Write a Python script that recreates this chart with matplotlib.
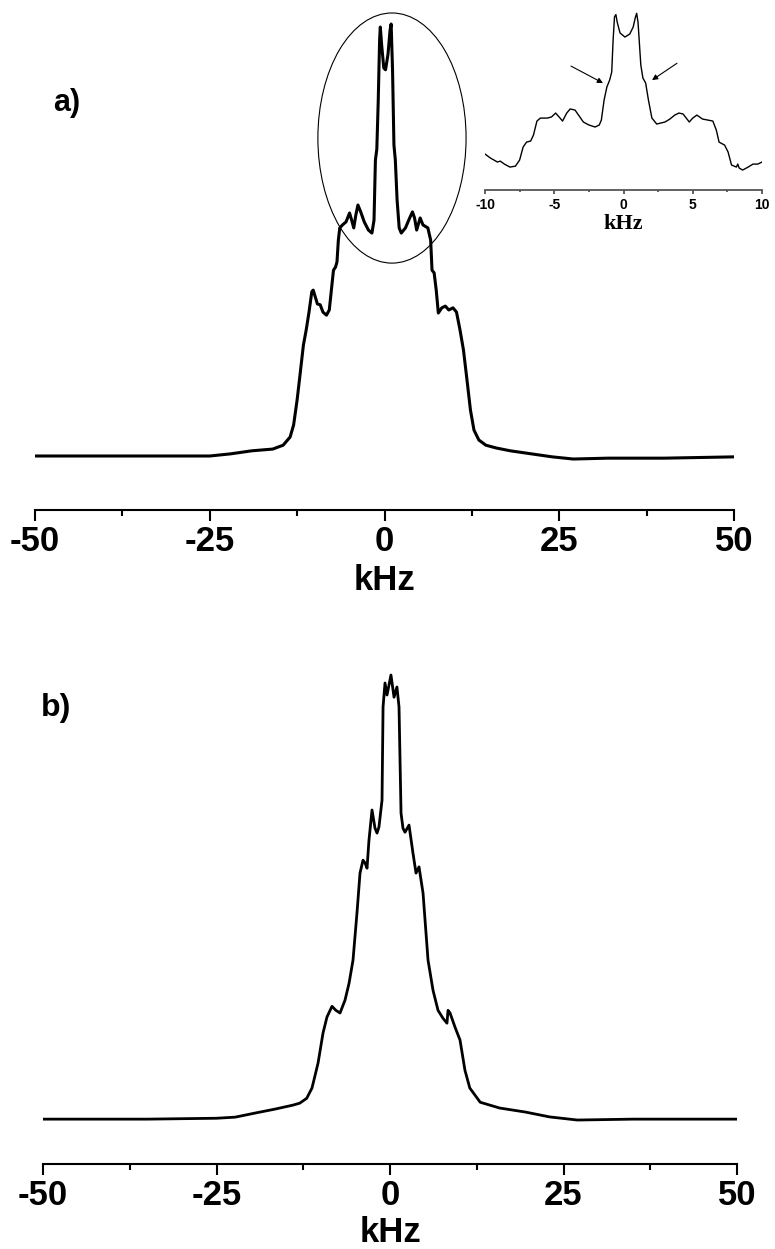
import matplotlib.pyplot as plt
from matplotlib.patches import Ellipse

plt.rcParams['font.family'] = ['Liberation Sans', 'DejaVu Sans']
plt.rcParams['font.weight'] = 'bold'

# Spectre a) (kHz, intensite normalisee)
freq_a = [-50, -40, -30, -25, -22, -19, -16, -14.5, -13.5, -13, -12.5, -12, -11.6, -11.2,
          -10.8, -10.4, -10.2, -9.9, -9.6, -9.2, -8.8, -8.3, -7.9, -7.6, -7.3, -7.0, -6.8,
          -6.6, -6.4, -6.0, -5.5, -5.0, -4.7, -4.4, -4.1, -3.8, -3.4, -2.9, -2.3, -1.8,
          -1.5, -1.3, -1.1, -0.9, -0.7, -0.6, -0.4, -0.1, 0.15, 0.5, 0.8, 0.95, 1.15,
          1.35, 1.55, 1.8, 2.1, 2.4, 3.0, 3.6, 4.0, 4.3, 4.6, 5.1, 5.5, 6.2, 6.6, 6.8,
          7.1, 7.4, 7.7, 8.2, 8.7, 9.2, 9.8, 10.3, 10.8, 11.3, 11.8, 12.3, 12.8, 13.5,
          14.5, 16, 18, 21, 24, 27, 32, 40, 50]
int_a = [0.0, 0.0, 0.0, 0.0, 0.005, 0.012, 0.016, 0.025, 0.044, 0.072, 0.13, 0.2, 0.257, 0.292,
         0.333, 0.38, 0.384, 0.368, 0.352, 0.35, 0.333, 0.326, 0.338, 0.384, 0.43, 0.4375, 0.449,
         0.5, 0.528, 0.535, 0.542, 0.5625, 0.546, 0.528, 0.558, 0.581, 0.565, 0.542, 0.523, 0.516,
         0.546, 0.685, 0.71, 0.82, 0.963, 0.993, 0.95, 0.898, 0.894, 0.93, 0.986, 1.0, 0.894,
         0.72, 0.685, 0.593, 0.528, 0.516, 0.528, 0.551, 0.565, 0.551, 0.523, 0.551, 0.535, 0.528, 0.5, 0.43,
         0.424, 0.384, 0.331, 0.343, 0.347, 0.338, 0.343, 0.333, 0.292, 0.245, 0.176, 0.106, 0.06, 0.037,
         0.025, 0.0185, 0.012, 0.005, -0.002, -0.007, -0.005, -0.005, -0.002]

# Encart : zoom -10..10 kHz
freq_in = [-10, -9.6, -9.1, -8.9, -8.6, -8.2, -7.8, -7.5, -7.25, -7.0, -6.7, -6.5, -6.25, -6.0,
           -5.5, -5.2, -4.9, -4.65, -4.4, -4.1, -3.85, -3.5, -3.2, -2.9, -2.5, -2.05, -1.75,
           -1.6, -1.4, -1.2, -1.0, -0.85, -0.75, -0.65, -0.55, -0.45, -0.25, 0.1, 0.45, 0.7, 0.85,
           0.95, 1.05, 1.25, 1.4, 1.6, 1.8, 2.05, 2.4, 3.0, 3.35, 3.7, 4.0, 4.3, 4.75, 5.0, 5.3,
           5.7, 6.45, 6.7, 6.9, 7.3, 7.55, 7.8, 8.15, 8.25, 8.35, 8.6, 9.0, 9.35, 9.7, 10]
int_in = [0.102, 0.076, 0.051, 0.057, 0.038, 0.019, 0.025, 0.064, 0.146, 0.178, 0.185, 0.223, 0.312, 0.331,
          0.331, 0.338, 0.363, 0.338, 0.312, 0.363, 0.389, 0.382, 0.344, 0.306, 0.287, 0.274, 0.287,
          0.318, 0.446, 0.529, 0.573, 0.624, 0.828, 0.975, 0.99, 0.94, 0.873, 0.847, 0.866, 0.911, 0.97,
          0.998, 0.94, 0.669, 0.586, 0.554, 0.446, 0.331, 0.293, 0.306, 0.325, 0.35, 0.363, 0.357, 0.306, 0.331, 0.35,
          0.325, 0.312, 0.255, 0.178, 0.159, 0.115, 0.032, 0.019, 0.038, 0.013, 0.0, 0.019, 0.038, 0.038, 0.051]

# Spectre b)
freq_b = [-50, -35, -25, -22.3, -19.5, -16.6, -14, -13, -12, -11.24, -10.37, -9.65, -9.08, -8.36,
          -7.8, -7.2, -6.48, -5.9, -5.33, -4.76, -4.32, -3.89, -3.6, -3.31, -3.03, -2.59, -2.16,
          -1.87, -1.59, -1.15, -1.0, -0.72, -0.43, 0.14, 0.58, 1.0, 1.3, 1.59, 1.87, 2.16,
          2.74, 3.31, 3.75, 4.18, 4.76, 5.48, 6.2, 6.92, 7.64, 8.21, 8.36, 8.65, 9.37, 10.09,
          10.8, 11.5, 13, 15.8, 19.5, 23, 27, 35, 50]
int_b = [0.0, 0.0, 0.002, 0.0045, 0.0135, 0.0225, 0.0315, 0.036, 0.047, 0.07, 0.126, 0.194, 0.23, 0.254,
         0.245, 0.239, 0.268, 0.306, 0.358, 0.464, 0.554, 0.583, 0.577, 0.565, 0.628, 0.696, 0.655,
         0.644, 0.658, 0.718, 0.928, 0.982, 0.955, 1.0, 0.95, 0.973, 0.928, 0.689, 0.655, 0.646,
         0.662, 0.599, 0.554, 0.568, 0.509, 0.358, 0.29, 0.245, 0.227, 0.216, 0.245, 0.239, 0.207, 0.178,
         0.11, 0.07, 0.038, 0.025, 0.016, 0.005, -0.002, 0.0, 0.0]

W, H = 775, 1249
fig = plt.figure(figsize=(W / 100, H / 100), dpi=100)


def axes_px(left, top, right, bottom):
    # position des axes en pixels (origine en haut a gauche)
    return fig.add_axes([left / W, 1 - bottom / H, (right - left) / W, (bottom - top) / H])


def style_axis(ax, major, minor, lw, size, length, color='black'):
    for s in ['left', 'right', 'top']:
        ax.spines[s].set_visible(False)
    ax.spines['bottom'].set_linewidth(lw)
    ax.spines['bottom'].set_color(color)
    ax.set_yticks([])
    ax.set_xticks(major)
    ax.set_xticks(minor, minor=True)
    ax.set_xticklabels([str(v) for v in major])
    ax.tick_params(axis='x', which='major', direction='out', length=length, width=lw,
                   color=color, labelsize=size, pad=3)
    ax.tick_params(axis='x', which='minor', direction='out', length=length * 0.55, width=lw,
                   color=color)
    ax.patch.set_alpha(0)


# a)
ax_a = axes_px(35, 10, 734, 510)
ax_a.plot(freq_a, int_a, color='black', lw=2.2)
ax_a.set_xlim(-50, 50)
ax_a.set_ylim(-0.125, 1.0324)
style_axis(ax_a, [-50, -25, 0, 25, 50], [-37.5, -12.5, 12.5, 37.5], 1.5, 25, 8)
ax_a.set_xlabel('kHz', fontsize=25, fontweight='bold', va='center')
ax_a.xaxis.set_label_coords(0.5, -0.14)
ax_a.add_patch(Ellipse((1.07, 0.736), 21.2, 0.579, fill=False, lw=0.8, ec='black', clip_on=False))
fig.text(67 / W, 1 - 103 / H, 'a)', fontsize=22, fontweight='bold', ha='center', va='center')

# encart
ax_in = axes_px(485, 5, 762, 190)
ax_in.plot(freq_in, int_in, color='black', lw=1.0)
ax_in.set_xlim(-10, 10)
ax_in.set_ylim(-0.127, 1.051)
style_axis(ax_in, [-10, -5, 0, 5, 10], [-7.5, -2.5, 2.5, 7.5], 1.3, 10, 3, color='#555555')
ax_in.set_xlabel('kHz', fontsize=16, fontweight='bold', family='Liberation Serif', va='center')
ax_in.xaxis.set_label_coords(0.5, -0.185)
arrow = dict(arrowstyle='-|>', lw=0.8, color='black', mutation_scale=8, shrinkA=0, shrinkB=0)
ax_in.annotate('', xy=(-1.48, 0.554), xytext=(-3.79, 0.662), arrowprops=arrow)
ax_in.annotate('', xy=(2.06, 0.573), xytext=(3.86, 0.68), arrowprops=arrow)

# b)
ax_b = axes_px(43, 640, 737, 1164)
ax_b.plot(freq_b, int_b, color='black', lw=2.0)
ax_b.set_xlim(-50, 50)
ax_b.set_ylim(-0.101, 1.0788)
style_axis(ax_b, [-50, -25, 0, 25, 50], [-37.5, -12.5, 12.5, 37.5], 1.5, 25, 8)
ax_b.set_xlabel('kHz', fontsize=25, fontweight='bold', va='center')
ax_b.xaxis.set_label_coords(0.5, -0.13)
fig.text(56 / W, 1 - 708 / H, 'b)', fontsize=23, fontweight='bold', ha='center', va='center')

fig.savefig('out.png', dpi=100)
